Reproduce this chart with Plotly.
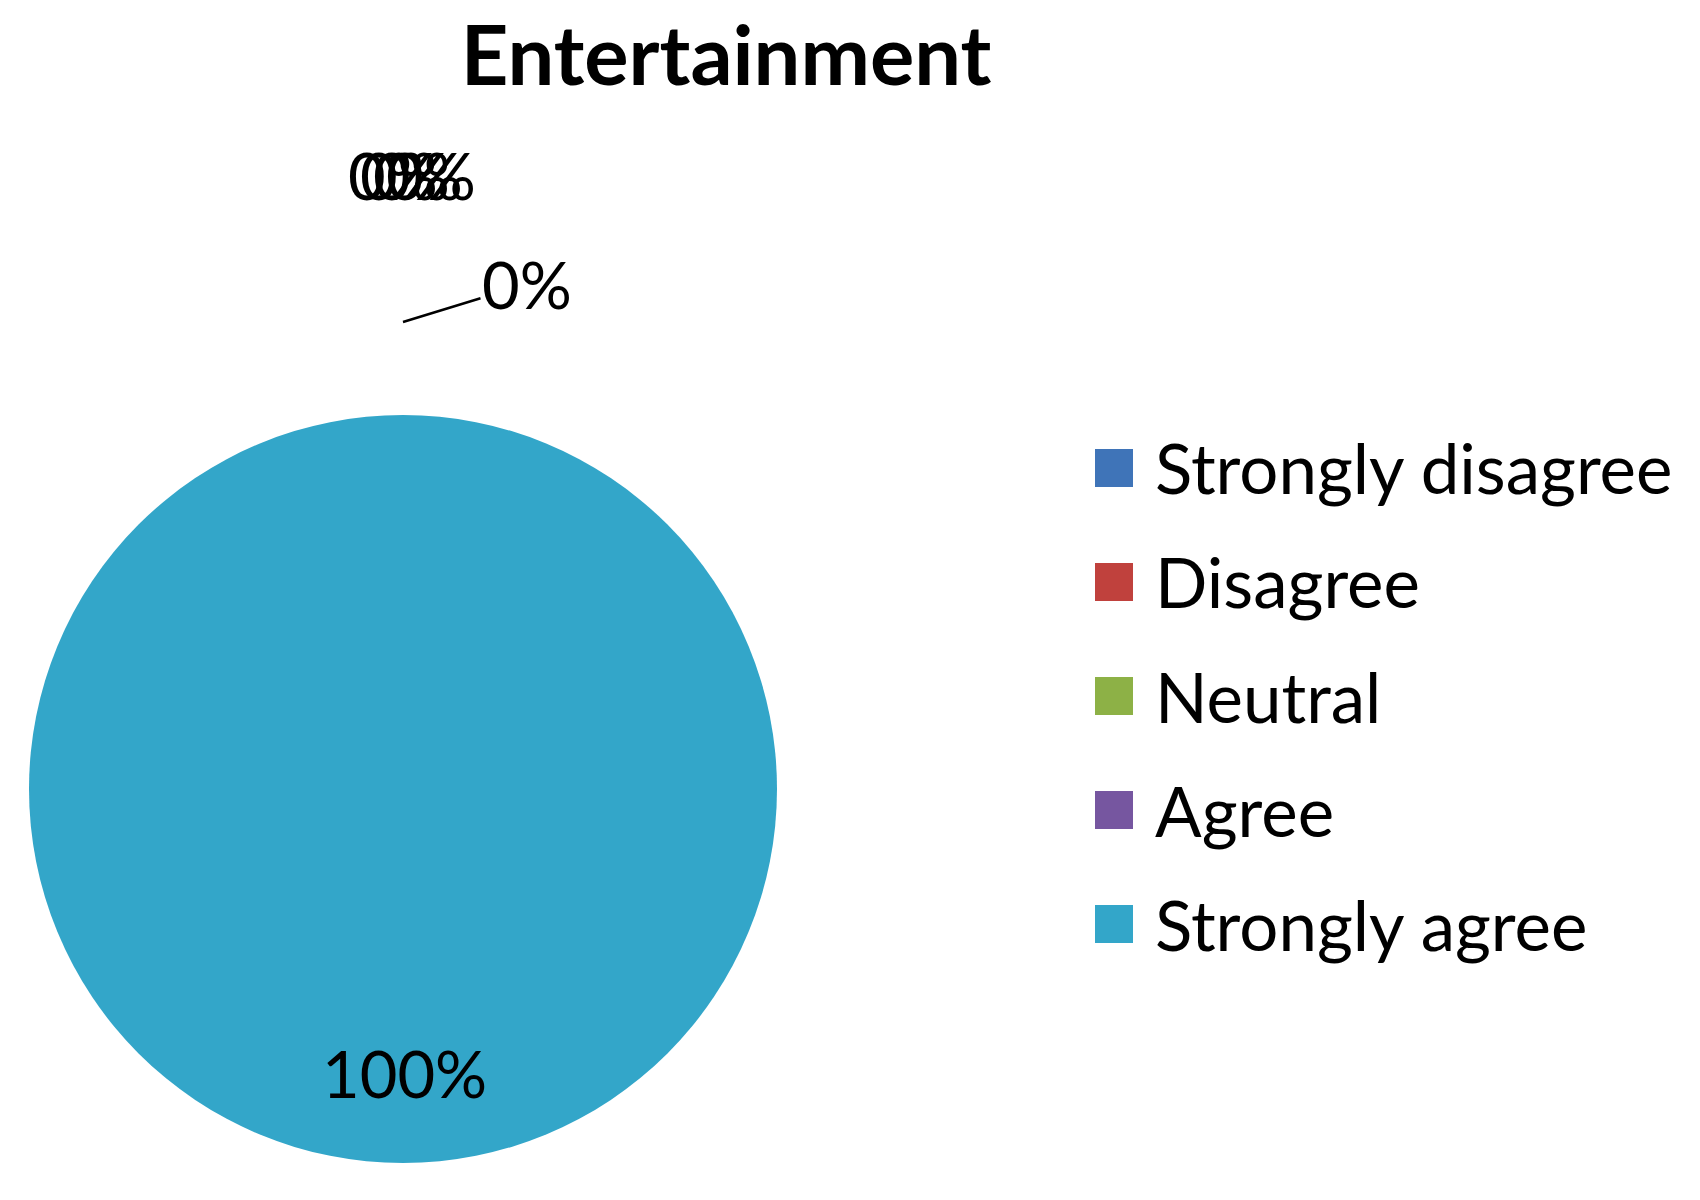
import plotly.graph_objects as go

# ---- data ----
categories = ["Strongly disagree", "Disagree", "Neutral", "Agree", "Strongly agree"]
values = [0, 0, 0, 0, 100]
colors = ["#3F74B8", "#C0413D", "#8DB146", "#7656A0", "#33A6C9"]
title_text = "Entertainment"

W, H = 1700, 1200
OFF = 8  # page body margin compensation
FONT = "Lato"


def px(x):
    return (x - OFF) / W


def py(y):
    return 1 - (y - OFF) / H


fig = go.Figure()

# pie: left 29, right 776, top 415, bottom 1163 (page pixels)
fig.add_trace(go.Pie(
    labels=categories,
    values=values,
    marker=dict(colors=colors, line=dict(width=0)),
    sort=False,
    direction="clockwise",
    rotation=0,
    textinfo="none",
    hoverinfo="label+percent",
    showlegend=False,
    domain=dict(x=[px(29), px(777)], y=[py(1163), py(415)]),
))

total = sum(values)
pct_labels = [f"{round(100 * v / total)}%" for v in values]

LBL = 65
# data label placement (page pixels)
label_pos = [(393, 175), (405, 175), (418, 175), (431, 175), (404, 1073)]
anns = []
for lab, (lx, ly) in zip(pct_labels, label_pos):
    anns.append(dict(
        x=px(lx), y=py(ly), xref="paper", yref="paper",
        text=lab, showarrow=False, xanchor="center", yanchor="middle",
        font=dict(family=FONT, size=LBL, color="#000000"),
    ))
# extra zero label with leader line
anns.append(dict(
    x=px(403), y=py(322), xref="paper", yref="paper",
    ax=124, ay=-38, axref="pixel", ayref="pixel",
    text=pct_labels[3], showarrow=True, arrowhead=0, arrowwidth=2.5,
    arrowcolor="#000000", standoff=0,
    font=dict(family=FONT, size=LBL, color="#000000"),
    xanchor="center", yanchor="middle",
))

# legend (built from categories/colors)
shapes = []
row_y = [468, 582, 696, 810, 924]
for cat, col, ry in zip(categories, colors, row_y):
    shapes.append(dict(
        type="rect", xref="paper", yref="paper",
        x0=px(1095), x1=px(1133), y0=py(ry + 19), y1=py(ry - 19),
        fillcolor=col, line=dict(width=0),
    ))
    anns.append(dict(
        x=px(1153), y=py(ry), xref="paper", yref="paper",
        text=cat, showarrow=False, xanchor="left", yanchor="middle",
        font=dict(family=FONT, size=69, color="#000000"),
    ))

fig.update_layout(
    width=W, height=H,
    margin=dict(l=0, r=0, t=0, b=0),
    paper_bgcolor="#FFFFFF", plot_bgcolor="#FFFFFF",
    title=dict(
        text=f"<b>{title_text}</b>", x=px(726), xanchor="center",
        y=py(56), yanchor="middle", xref="paper", yref="paper",
        font=dict(family=FONT, size=83, color="#000000"),
    ),
    annotations=anns,
    shapes=shapes,
    showlegend=False,
)

fig.write_html("out.html")
